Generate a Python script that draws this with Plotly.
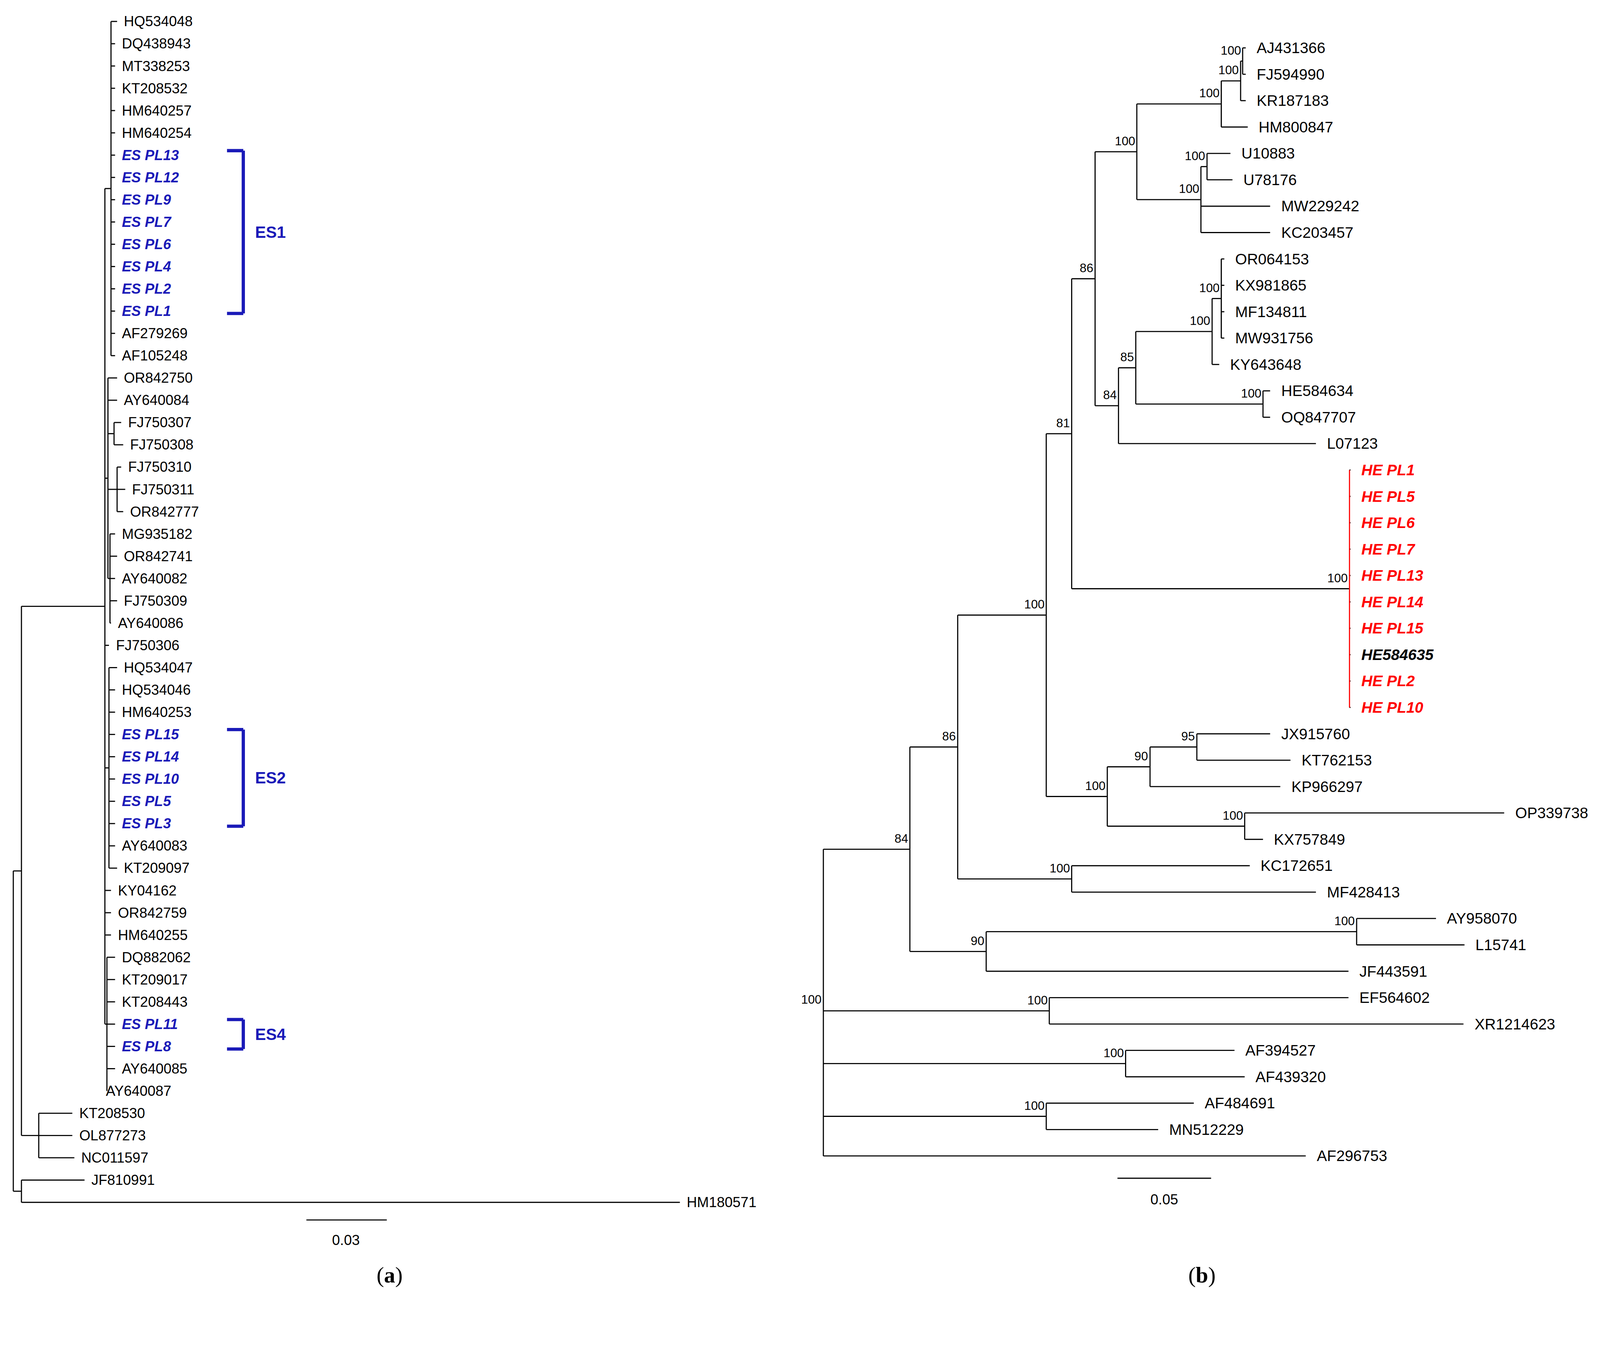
import plotly.graph_objects as go

DW, DH = 1568, 1274
W, H = 4085, 3319
S = W / DW

# ---------------- Panel (a) data ----------------
a_names = ["HQ534048","DQ438943","MT338253","KT208532","HM640257","HM640254",
 "ES PL13","ES PL12","ES PL9","ES PL7","ES PL6","ES PL4","ES PL2","ES PL1",
 "AF279269","AF105248","OR842750","AY640084","FJ750307","FJ750308","FJ750310",
 "FJ750311","OR842777","MG935182","OR842741","AY640082","FJ750309","AY640086",
 "FJ750306","HQ534047","HQ534046","HM640253","ES PL15","ES PL14","ES PL10",
 "ES PL5","ES PL3","AY640083","KT209097","KY04162","OR842759","HM640255",
 "DQ882062","KT209017","KT208443","ES PL11","ES PL8","AY640085","AY640087",
 "KT208530","OL877273","NC011597","JF810991","HM180571"]
a_tips = [112,110,110,110,110,110, 110,110,110,110,110,110,110,110, 110,110,
 112,112,116,118,116,120,118, 110,112,110,112,106, 104, 112,110,110,110,110,110,
 110,110,110,112, 106,106,106, 110,110,110,110,110,110,94, 68,68,70, 80,665]
a_y0, a_dy = 18, 21.9

a_tree = ("n", 10, "", [
    ("n", 18, "", [
        ("n", 100, "", [
            ("n", 106, "", list(range(0, 16))),
            ("n", 103, "", [16, 17, ("n", 109, "", [18, 19]),
                            ("n", 112, "", [20, 21, 22]),
                            ("n", 105, "", [23, 24, 25, 26, 27])]),
            28,
            ("n", 104, "", list(range(29, 39))),
            39, 40, 41,
            ("n", 102, "", list(range(42, 49))),
        ]),
        ("n", 35, "", [49, 50, 51]),
    ]),
    ("n", 18, "", [52, 53]),
])

# ---------------- Panel (b) data ----------------
b_names = ["AJ431366","FJ594990","KR187183","HM800847","U10883","U78176","MW229242",
 "KC203457","OR064153","KX981865","MF134811","MW931756","KY643648","HE584634",
 "OQ847707","L07123","HE PL1","HE PL5","HE PL6","HE PL7","HE PL13","HE PL14",
 "HE PL15","HE584635","HE PL2","HE PL10","JX915760","KT762153","KP966297",
 "OP339738","KX757849","KC172651","MF428413","AY958070","L15741","JF443591",
 "EF564602","XR1214623","AF394527","AF439320","AF484691","MN512229","AF296753"]
b_tips = [1221,1221,1221,1223,1206,1208,1245,1245,1200,1200,1200,1200,1195,1245,
 1245,1290] + [1324]*10 + [1245,1265,1255,1475,1238,1225,1290,1408,1436,1322,
 1322,1435,1210,1220,1170,1135,1280]
b_y0, b_dy = 44, 25.93

b_tree = ("n", 806, "", [
    ("n", 891, "84", [
        ("n", 938, "86", [
            ("n", 1025, "100", [
                ("n", 1050, "81", [
                    ("n", 1073, "86", [
                        ("n", 1114, "100", [
                            ("n", 1197, "100", [
                                ("n", 1216, "100", [("n", 1218, "100", [0, 1]), 2]), 3]),
                            ("n", 1177, "100", [("n", 1183, "100", [4, 5]), 6, 7]),
                        ]),
                        ("n", 1096, "84", [
                            ("n", 1113, "85", [
                                ("n", 1188, "100", [("n", 1197, "100", [8, 9, 10, 11]), 12]),
                                ("n", 1238, "100", [13, 14]),
                            ]),
                            15,
                        ]),
                    ]),
                    ("n", 1323, "100", list(range(16, 26)), "red"),
                ]),
                ("n", 1085, "100", [
                    ("n", 1127, "90", [("n", 1173, "95", [26, 27]), 28]),
                    ("n", 1220, "100", [29, 30]),
                ]),
            ]),
            ("n", 1050, "100", [31, 32]),
        ]),
        ("n", 966, "90", [("n", 1330, "100", [33, 34]), 35]),
    ]),
    ("n", 1028, "100", [36, 37]),
    ("n", 1103, "100", [38, 39]),
    ("n", 1025, "100", [40, 41]),
    42,
])

segs = {"black": ([], []), "red": ([], []), "#1a1ab8": ([], [])}
texts = []

def seg(x0, y0, x1, y1, c="black"):
    xs, ys = segs[c]
    xs += [x0 * S, x1 * S, None]
    ys += [y0 * S, y1 * S, None]

def build(node, tips, y0, dy):
    if isinstance(node, int):
        return tips[node], y0 + node * dy
    x = node[1]
    col = node[4] if len(node) > 4 else "black"
    pts = [build(ch, tips, y0, dy) for ch in node[3]]
    ys = [p[1] for p in pts]
    seg(x, min(ys), x, max(ys), col)
    for (cx, cy) in pts:
        if cx > x:
            seg(x, cy, cx, cy)
    ym = (min(ys) + max(ys)) / 2
    if node[2]:
        texts.append(dict(x=(x - 1) * S, y=(ym - 3) * S, text=node[2], xanchor="right",
                          yanchor="bottom", font=dict(size=12 * S, color="black")))
    return x, ym

build(a_tree, a_tips, a_y0, a_dy)
build(b_tree, b_tips, b_y0, b_dy)

FONT = "Liberation Sans, Arial, sans-serif"
for i, n in enumerate(a_names):
    y = a_y0 + i * a_dy
    if n.startswith("ES"):
        t, c = f"<b><i>{n}</i></b>", "#1a1ab8"
    else:
        t, c = n, "black"
    texts.append(dict(x=(a_tips[i] + 6) * S, y=y * S, text=t, xanchor="left",
                      yanchor="middle", font=dict(size=14 * S, color=c)))
for i, n in enumerate(b_names):
    y = b_y0 + i * b_dy
    if n.startswith("HE PL"):
        t, c = f"<b><i>{n}</i></b>", "#ff0000"
    elif n == "HE584635":
        t, c = f"<b><i>{n}</i></b>", "black"
    else:
        t, c = n, "black"
    texts.append(dict(x=(b_tips[i] + 10) * S, y=y * S, text=t, xanchor="left",
                      yanchor="middle", font=dict(size=15 * S, color=c)))

texts.append(dict(x=805 * S, y=987 * S, text="100", xanchor="right", yanchor="bottom",
                  font=dict(size=12 * S, color="black")))

brackets = [("ES1", 145, 305), ("ES2", 714, 809), ("ES4", 999, 1028)]
for lab, ya, yb in brackets:
    seg(220, ya, 236, ya, "#1a1ab8")
    seg(236, ya, 236, yb, "#1a1ab8")
    seg(220, yb, 236, yb, "#1a1ab8")
    texts.append(dict(x=247 * S, y=(ya + yb) / 2 * S, text=f"<b>{lab}</b>", xanchor="left",
                      yanchor="middle", font=dict(size=16 * S, color="#1a1ab8")))

seg(298, 1196, 377, 1196)
texts.append(dict(x=337 * S, y=1216 * S, text="0.03", xanchor="center", yanchor="middle",
                  font=dict(size=14 * S, color="black")))
seg(1095, 1155, 1187, 1155)
texts.append(dict(x=1141 * S, y=1176 * S, text="0.05", xanchor="center", yanchor="middle",
                  font=dict(size=14 * S, color="black")))

for lab, x in [("a", 380), ("b", 1178)]:
    texts.append(dict(x=x * S, y=1250 * S, text=f"(<b>{lab}</b>)", xanchor="center",
                      yanchor="middle",
                      font=dict(size=22 * S, color="black", family="Liberation Serif, Times New Roman, serif")))

fig = go.Figure()
widths = {"black": 1.1 * S, "red": 1.1 * S, "#1a1ab8": 3.2 * S}
for c, (xs, ys) in segs.items():
    fig.add_trace(go.Scatter(x=xs, y=ys, mode="lines", line=dict(color=c, width=widths[c]),
                             hoverinfo="skip", showlegend=False))
for t in texts:
    t.update(showarrow=False, xref="x", yref="y")
    t["font"].setdefault("family", FONT)
    fig.add_annotation(**t)

fig.update_layout(width=W, height=H, margin=dict(l=0, r=0, t=0, b=0),
                  paper_bgcolor="white", plot_bgcolor="white")
fig.update_xaxes(range=[0, W], visible=False, fixedrange=True)
fig.update_yaxes(range=[H, 0], visible=False, fixedrange=True)
fig.write_html("out.html")
